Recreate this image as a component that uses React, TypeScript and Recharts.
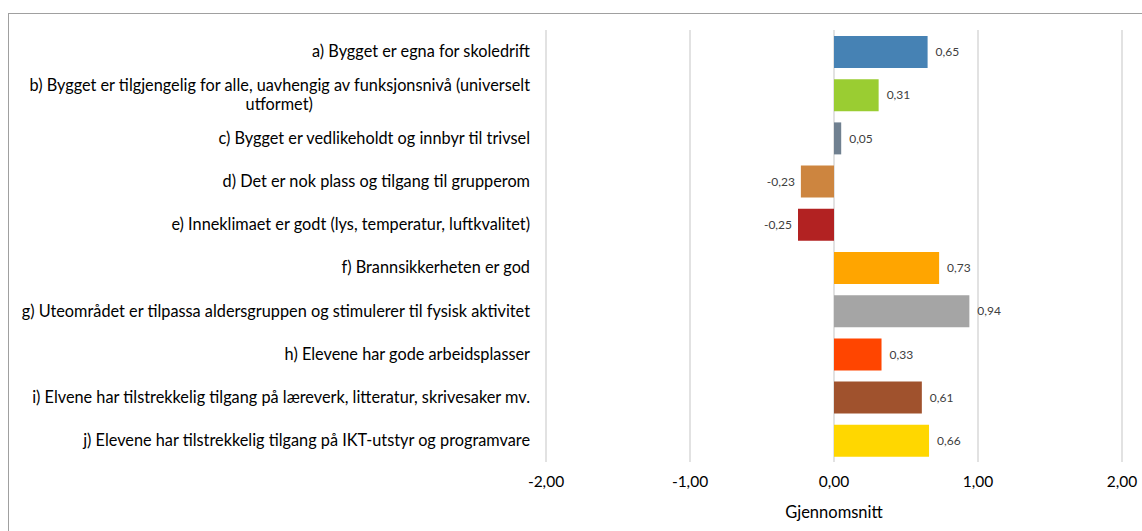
import React from 'react';
import { BarChart, Bar, XAxis, YAxis, CartesianGrid, Cell, LabelList } from 'recharts';

// Spørsmål og gjennomsnittsverdier
const categories = [
  'a) Bygget er egna for skoledrift',
  'b) Bygget er tilgjengelig for alle, uavhengig av funksjonsnivå (universelt utformet)',
  'c) Bygget er vedlikeholdt og innbyr til trivsel',
  'd) Det er nok plass og tilgang til grupperom',
  'e) Inneklimaet er godt (lys, temperatur, luftkvalitet)',
  'f) Brannsikkerheten er god',
  'g) Uteområdet er tilpassa aldersgruppen og stimulerer til fysisk aktivitet',
  'h) Elevene har gode arbeidsplasser',
  'i) Elvene har tilstrekkelig tilgang på læreverk, litteratur, skrivesaker mv.',
  'j) Elevene har tilstrekkelig tilgang på IKT-utstyr og programvare',
];
const values = [0.65, 0.31, 0.05, -0.23, -0.25, 0.73, 0.94, 0.33, 0.61, 0.66];
const colors = [
  '#4682B4', '#9ACD32', '#708090', '#CD853F', '#B22222',
  '#FFA500', '#A5A5A5', '#FF4500', '#A0522D', '#FFD700',
];
const xTicks = [-2, -1, 0, 1, 2];

const data = categories.map((name, i) => ({ name, value: values[i] }));

const FONT = 'Lato, "Open Sans", sans-serif';
const LABEL_SIZE = 16.3;
const fmt = (v: number) => v.toFixed(2).replace('.', ',');

let ctx: CanvasRenderingContext2D | null = null;
function measure(text: string, size: number) {
  if (!ctx) ctx = document.createElement('canvas').getContext('2d');
  if (!ctx) return text.length * size * 0.5;
  ctx.font = `${size}px Lato`;
  return ctx.measureText(text).width;
}

function wrap(text: string, max: number) {
  const words = text.split(' ');
  const lines: string[] = [];
  let cur = '';
  words.forEach((w) => {
    const next = cur ? cur + ' ' + w : w;
    if (next.length > max && cur) {
      lines.push(cur);
      cur = w;
    } else cur = next;
  });
  if (cur) lines.push(cur);
  return lines;
}

function CategoryTick(props: any) {
  const { x, y, payload } = props;
  const lines = wrap(payload.value, 80);
  const lh = 19;
  const startY = y - ((lines.length - 1) * lh) / 2;
  const w0 = measure(lines[0], LABEL_SIZE);
  return (
    <g>
      {lines.map((line, i) => (
        <text
          key={i}
          x={i === 0 ? x : x - w0 / 2}
          y={startY + i * lh}
          dy="0.35em"
          textAnchor={i === 0 ? 'end' : 'middle'}
          fontSize={LABEL_SIZE}
          fontFamily={FONT}
          fill="#000"
        >
          {line}
        </text>
      ))}
    </g>
  );
}

function ValueLabel(props: any) {
  const { x, y, width, height, value } = props;
  const neg = value < 0;
  const tx = neg ? x + width - 6 : x + width + 8;
  return (
    <text
      x={tx}
      y={y + height / 2}
      dy="0.35em"
      textAnchor={neg ? 'end' : 'start'}
      fontSize={12}
      fontFamily={FONT}
      fill="#404040"
    >
      {fmt(value)}
    </text>
  );
}

export default function App() {
  return (
    <div style={{ position: 'fixed', left: 0, top: 0, width: 1142, height: 531, overflow: 'hidden', background: '#fff' }}>
      <div
        style={{
          position: 'absolute',
          left: 8,
          top: 13,
          width: 1160,
          height: 540,
          border: '1px solid #a0a0a0',
          boxSizing: 'border-box',
        }}
      />
      <div style={{ position: 'absolute', left: 0, top: 0 }}>
        <BarChart
          width={1142}
          height={531}
          data={data}
          layout="vertical"
          margin={{ top: 30, right: 20, bottom: 0, left: 0 }}
        >
          <CartesianGrid horizontal={false} stroke="#d9d9d9" strokeWidth={1.5} />
          <XAxis
            type="number"
            domain={[-2, 2]}
            ticks={xTicks}
            tickFormatter={fmt}
            axisLine={false}
            tickLine={false}
            tickMargin={8}
            height={69}
            tick={{ fontSize: 15.5, fontFamily: FONT, fill: '#000' }}
            label={{ value: 'Gjennomsnitt', position: 'insideBottom', offset: 13, fontSize: 16.5, fontFamily: FONT, fill: '#000' }}
          />
          <YAxis
            type="category"
            dataKey="name"
            width={546}
            axisLine={false}
            tickLine={false}
            tickSize={0}
            tickMargin={16}
            interval={0}
            tick={<CategoryTick />}
          />
          <Bar dataKey="value" barSize={32} isAnimationActive={false}>
            {data.map((d, i) => (
              <Cell key={d.name} fill={colors[i]} />
            ))}
            <LabelList dataKey="value" content={<ValueLabel />} />
          </Bar>
        </BarChart>
      </div>
    </div>
  );
}
